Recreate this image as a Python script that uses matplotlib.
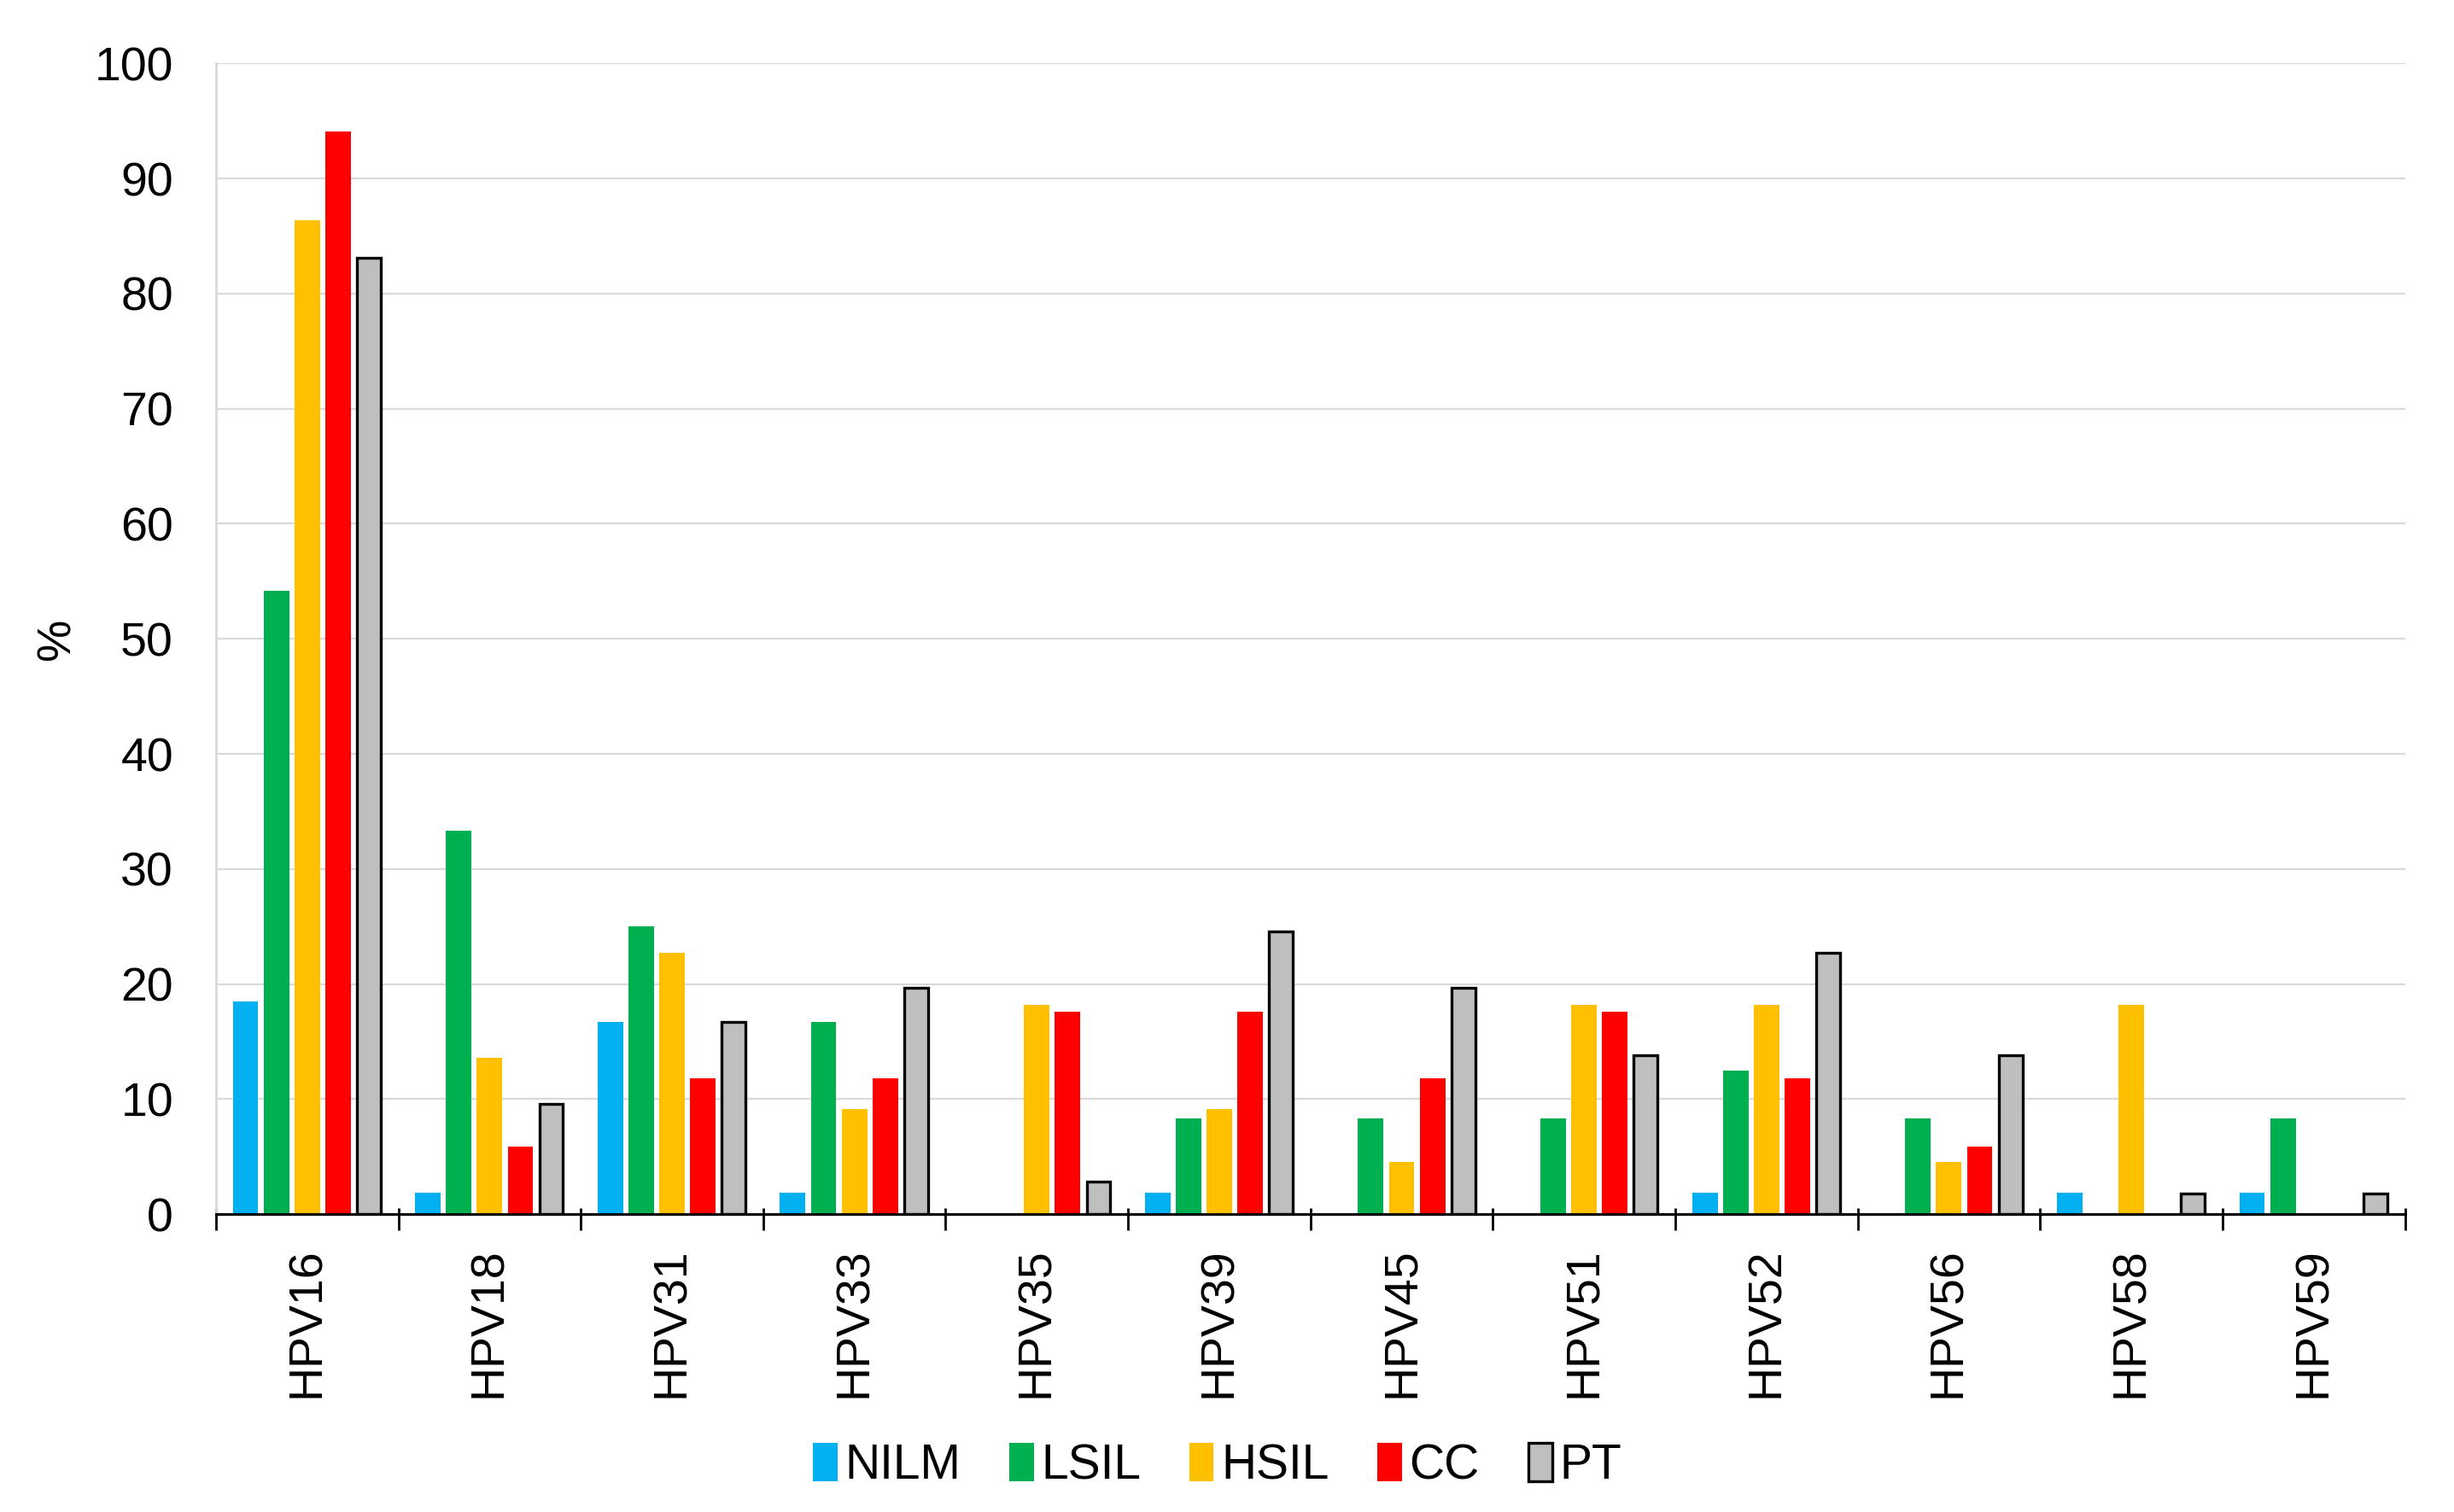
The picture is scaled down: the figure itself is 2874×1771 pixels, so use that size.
import matplotlib
matplotlib.use("Agg")
import matplotlib.pyplot as plt
import numpy as np

plt.rcParams['font.family'] = ['Liberation Sans', 'DejaVu Sans']

types = ['HPV16', 'HPV18', 'HPV31', 'HPV33', 'HPV35', 'HPV39',
         'HPV45', 'HPV51', 'HPV52', 'HPV56', 'HPV58', 'HPV59']
groups = ['NILM', 'LSIL', 'HSIL', 'CC', 'PT']

nilm = [18.5, 1.9, 16.7, 1.9, 0, 1.9, 0, 0, 1.9, 0, 1.9, 1.9]
lsil = [54.2, 33.3, 25.0, 16.7, 0, 8.3, 8.3, 8.3, 12.5, 8.3, 0, 8.3]
hsil = [86.4, 13.6, 22.7, 9.1, 18.2, 9.1, 4.5, 18.2, 18.2, 4.5, 18.2, 0]
cc = [94.1, 5.9, 11.8, 11.8, 17.6, 17.6, 11.8, 17.6, 11.8, 5.9, 0, 0]
pt = [83.1, 9.6, 16.7, 19.7, 2.8, 24.6, 19.7, 13.8, 22.7, 13.8, 1.8, 1.8]

series = [nilm, lsil, hsil, cc, pt]
colors = ['#00B0F0', '#00B050', '#FFC000', '#FF0000', '#BFBFBF']

fig = plt.figure(figsize=(14.37, 8.855), dpi=200)
ax = fig.add_axes([0.088, 0.197, 0.892, 0.761])

x = np.arange(len(types))
slot = 0.169
for j, (vals, c) in enumerate(zip(series, colors)):
    pos = x + (j - 2) * slot
    if groups[j] == 'PT':
        ax.bar(pos, vals, width=0.13, color=c, edgecolor='black',
               linewidth=1.2, label=groups[j], zorder=3)
    else:
        ax.bar(pos, vals, width=0.14, color=c, label=groups[j], zorder=3)

ax.set_xlim(-0.5, len(types) - 0.5)
ax.set_ylim(0, 100)
ax.set_yticks(range(0, 101, 10))
ax.tick_params(axis='y', length=0, pad=18, labelsize=20)
ax.yaxis.grid(True, color='#D9D9D9', linewidth=0.8, zorder=0)
ax.set_axisbelow(True)

# group boundary ticks (out) and category labels (minor, no tick)
bounds = np.arange(len(types) + 1) - 0.5
ax.set_xticks(bounds)
ax.set_xticklabels([])
ax.set_xticks(x, minor=True)
ax.set_xticklabels(types, minor=True, rotation=90, fontsize=20)
ax.tick_params(axis='x', which='major', direction='out', length=7,
               width=1.0, color='black')
ax.tick_params(axis='x', which='minor', length=0, pad=14)

# short inward part of the boundary ticks
sec = ax.secondary_xaxis('bottom')
sec.set_xticks(bounds)
sec.set_xticklabels([])
sec.tick_params(direction='in', length=2.5, width=1.0, color='black')
sec.spines['bottom'].set_visible(False)

for s in ['top', 'right']:
    ax.spines[s].set_visible(False)
ax.spines['left'].set_color('#D9D9D9')
ax.spines['left'].set_linewidth(1.0)
ax.spines['bottom'].set_color('black')
ax.spines['bottom'].set_linewidth(1.1)
ax.spines['bottom'].set_zorder(4)

ax.set_ylabel('%', fontsize=20)
ax.yaxis.set_label_coords(-0.062, 0.5)

ax.legend(loc='center', bbox_to_anchor=(0.4575, -0.219), ncol=5,
          frameon=False, fontsize=20.5, handlelength=0.5, handleheight=0.85,
          handletextpad=0.15, columnspacing=1.0)

fig.savefig('out.png', dpi=200)
